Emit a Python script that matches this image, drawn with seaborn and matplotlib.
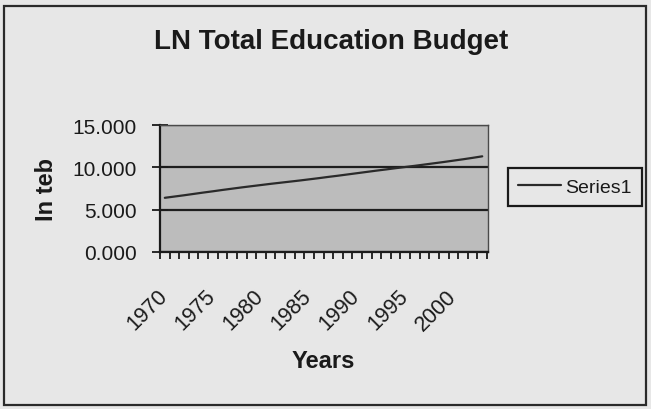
import numpy as np
import pandas as pd
import matplotlib
matplotlib.use("Agg")
import matplotlib.pyplot as plt
import matplotlib.transforms as mtransforms
from matplotlib.patches import Rectangle
import seaborn as sns

# ---- data ----
years = [1970, 1971, 1972, 1973, 1974, 1975, 1976, 1977, 1978, 1979,
         1980, 1981, 1982, 1983, 1984, 1985, 1986, 1987, 1988, 1989,
         1990, 1991, 1992, 1993, 1994, 1995, 1996, 1997, 1998, 1999,
         2000, 2001, 2002, 2003]
ln_budget = [6.40, 6.55, 6.70, 6.86, 7.02, 7.17, 7.33, 7.48, 7.63, 7.77,
             7.91, 8.05, 8.18, 8.31, 8.44, 8.58, 8.72, 8.87, 9.01, 9.16,
             9.31, 9.46, 9.61, 9.75, 9.90, 10.04, 10.18, 10.33, 10.48, 10.63,
             10.79, 10.95, 11.12, 11.30]
series_name = "Series1"
year_labels = [1970, 1975, 1980, 1985, 1990, 1995, 2000]
y_ticks = [0, 5, 10, 15]
title = "LN Total Education Budget"
x_title = "Years"
y_title = "In teb"

df = pd.DataFrame({"Year": years, "Value": ln_budget, "Series": series_name})

sns.set_style("white")
plt.rcParams["font.family"] = ["Liberation Sans", "DejaVu Sans"]

W, H, DPI = 651, 410, 100
fig = plt.figure(figsize=(W / DPI, H / DPI), dpi=DPI)
fig.patch.set_facecolor("#e7e7e7")

# plot area in pixels
L, R, T, B = 160, 488, 126, 253
ax = fig.add_axes([L / W, 1 - B / H, (R - L) / W, (B - T) / H])
ax.set_facecolor("#bcbcbc")

sns.lineplot(data=df, x="Year", y="Value", hue="Series", palette=["#2a2a2a"],
             linewidth=1.6, ax=ax, legend=True)

ax.set_xlim(1969.5, 2003.6)
ax.set_ylim(0, 15)

# gridlines
ax.set_yticks(y_ticks)
ax.set_yticklabels([f"{v:.3f}" for v in y_ticks])
ax.yaxis.grid(True, color="#1e1e1e", linewidth=1.6)
ax.xaxis.grid(False)
ax.set_axisbelow(True)

# x ticks: marks at category boundaries, labels every 5 years
ax.set_xticks(year_labels)
ax.set_xticklabels([str(y) for y in year_labels])
ax.set_xticks([y - 0.5 for y in years] + [years[-1] + 0.5], minor=True)
ax.tick_params(axis="x", which="major", bottom=True, length=0, pad=24,
               labelsize=15.5, colors="#1a1a1a")
ax.tick_params(axis="x", which="minor", bottom=True, direction="out",
               length=5, width=1.3, color="#1a1a1a")
ax.tick_params(axis="y", which="major", left=True, direction="inout",
               length=11, width=1.3, pad=11, labelsize=15, colors="#1a1a1a")
offset = mtransforms.ScaledTranslation(-8 / DPI, 0, fig.dpi_scale_trans)
for lab in ax.get_xticklabels():
    lab.set_rotation(45)
    lab.set_rotation_mode("anchor")
    lab.set_ha("right")
    lab.set_va("top")
    lab.set_transform(lab.get_transform() + offset)

for side in ["left", "bottom"]:
    ax.spines[side].set_color("#1a1a1a")
    ax.spines[side].set_linewidth(1.6)
for side in ["top", "right"]:
    ax.spines[side].set_color("#4a4a4a")
    ax.spines[side].set_linewidth(1.0)

# axis titles
ax.set_xlabel(x_title, fontsize=17, fontweight="bold", color="#1a1a1a")
ax.xaxis.set_label_coords((323 - L) / (R - L), (B - 350) / (B - T))
ax.xaxis.label.set_va("top")
ax.set_ylabel(y_title, fontsize=17, fontweight="bold", color="#1a1a1a")
ax.yaxis.set_label_coords((58 - L) / (R - L), 0.5)

ax.set_title(title, fontsize=20, fontweight="bold", color="#1a1a1a",
             x=(331 - L) / (R - L), y=(B - 50) / (B - T), va="center")

# legend
handles, labels = ax.get_legend_handles_labels()
leg = ax.legend(handles, labels, loc="center left",
                bbox_to_anchor=(508 / W, 1 - 188 / H),
                bbox_transform=fig.transFigure, fontsize=14,
                frameon=True, fancybox=False, framealpha=1,
                edgecolor="#1a1a1a", facecolor="#e7e7e7",
                handlelength=2.2, handletextpad=0.25, borderpad=0.5,
                borderaxespad=0)
leg.get_frame().set_linewidth(1.6)
for t in leg.get_texts():
    t.set_color("#1a1a1a")

# chart-area border
fig.patches.append(Rectangle((4 / W, 4 / H), (646 - 4) / W, (403 - 4) / H,
                             transform=fig.transFigure, fill=False,
                             edgecolor="#2a2a2a", linewidth=1.6))

fig.savefig("out.png", dpi=DPI, facecolor=fig.get_facecolor())
